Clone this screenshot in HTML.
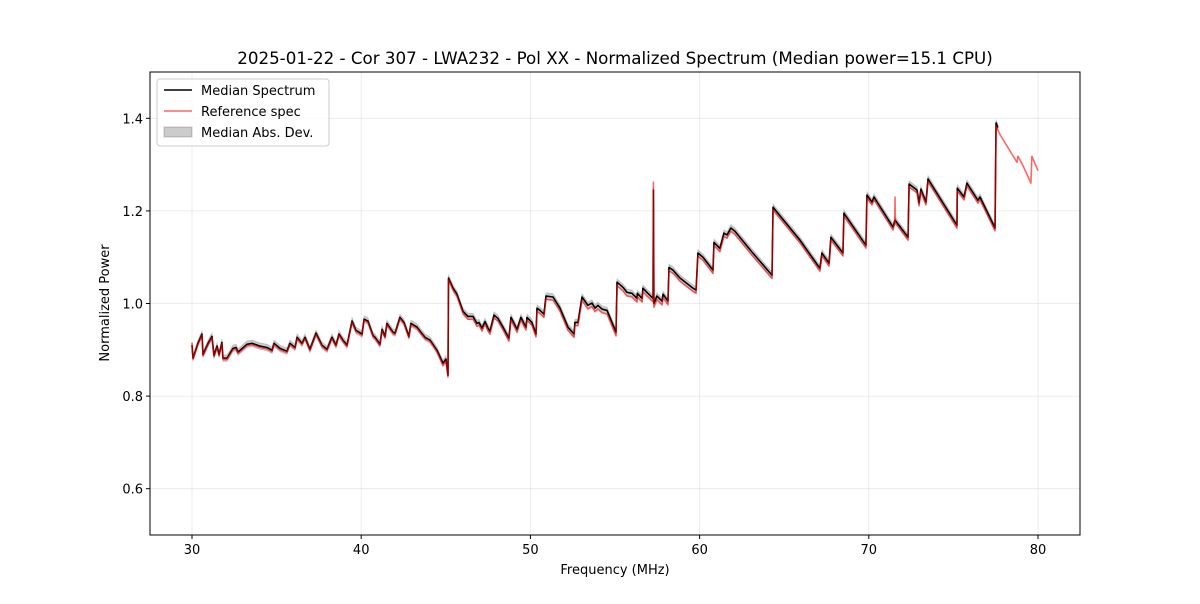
<!DOCTYPE html>
<html><head><meta charset="utf-8"><style>
body{margin:0;background:#fff;font-family:"DejaVu Sans",sans-serif}
svg text{font-family:"DejaVu Sans","Liberation Sans",sans-serif;fill:#000}
</style></head><body>
<svg id="chart" width="1200" height="600" xmlns="http://www.w3.org/2000/svg">
<rect width="1200" height="600" fill="#fff"/>
<text x="615" y="64" font-size="16.7" text-anchor="middle">2025-01-22 - Cor 307 - LWA232 - Pol XX - Normalized Spectrum (Median power=15.1 CPU)</text>
<g id="grid"></g><g id="band"></g><g id="lines"></g>
<rect x="150" y="72" width="930" height="463" fill="none" stroke="#000" stroke-width="1"/>
<g id="ticks"></g>
<text x="615" y="574" font-size="13" text-anchor="middle">Frequency (MHz)</text>
<text transform="translate(109,303) rotate(-90)" font-size="13" text-anchor="middle">Normalized Power</text>
<g>
<rect x="157" y="79" width="172" height="67" rx="3" fill="#fff" fill-opacity="0.8" stroke="#ccc"/>
<line x1="164" y1="90" x2="192" y2="90" stroke="#000" stroke-width="1.5"/>
<text x="201" y="95" font-size="13">Median Spectrum</text>
<line x1="164" y1="111" x2="192" y2="111" stroke="#ff0000" stroke-opacity="0.6" stroke-width="1.5"/>
<text x="201" y="116" font-size="13">Reference spec</text>
<rect x="164" y="127" width="28" height="10" fill="#000" fill-opacity="0.2" stroke="#000" stroke-opacity="0.2"/>
<text x="201" y="137" font-size="13">Median Abs. Dev.</text>
</g>
</svg>
<script>
const xTicks=[30,40,50,60,70,80];
const yTicks=[0.6,0.8,1.0,1.2,1.4];
const yTickLabels=["0.6","0.8","1.0","1.2","1.4"];
const medFreq=[30.00,30.06,30.35,30.59,30.65,30.95,31.18,31.30,31.48,31.60,31.77,31.83,32.07,32.42,32.60,32.72,33.25,33.55,34.02,34.43,34.73,34.85,35.20,35.61,35.79,36.09,36.21,36.50,36.68,36.97,37.33,37.68,37.98,38.27,38.51,38.69,38.92,39.16,39.46,39.69,40.05,40.17,40.40,40.70,40.82,41.11,41.23,41.41,41.52,41.88,42.00,42.29,42.53,42.82,42.94,43.30,43.53,43.77,44.07,44.48,44.83,45.01,45.13,45.16,45.43,45.66,46.02,46.31,46.61,46.84,46.96,47.14,47.32,47.49,47.61,47.85,48.08,48.38,48.73,48.85,49.09,49.21,49.44,49.62,49.74,49.80,50.09,50.33,50.39,50.57,50.80,50.92,51.34,51.75,52.22,52.58,52.63,52.81,53.05,53.40,53.64,53.82,53.99,54.23,54.53,55.06,55.12,55.47,55.71,56.00,56.30,56.32,56.60,56.65,56.89,57.25,57.27,57.30,57.48,57.78,57.84,58.13,58.19,58.43,58.84,59.61,59.79,59.90,60.20,60.79,60.85,61.20,61.44,61.62,61.85,62.09,63.10,64.28,64.34,64.63,65.93,67.11,67.23,67.65,67.76,68.47,68.53,69.83,69.89,70.19,70.31,71.43,71.55,72.32,72.38,72.85,72.97,73.08,73.38,73.50,75.21,75.23,75.63,75.80,76.45,76.57,77.46,77.52,77.63];
const medVals=[0.910,0.882,0.914,0.934,0.890,0.914,0.929,0.888,0.908,0.890,0.916,0.882,0.882,0.903,0.905,0.895,0.912,0.914,0.908,0.905,0.899,0.914,0.903,0.897,0.914,0.905,0.927,0.914,0.927,0.901,0.936,0.910,0.901,0.927,0.910,0.934,0.921,0.910,0.962,0.942,0.934,0.966,0.962,0.931,0.927,0.912,0.944,0.929,0.957,0.938,0.936,0.970,0.959,0.929,0.957,0.949,0.938,0.927,0.921,0.899,0.871,0.880,0.845,1.055,1.033,1.020,0.983,0.972,0.972,0.957,0.959,0.947,0.961,0.947,0.940,0.975,0.968,0.949,0.925,0.970,0.953,0.944,0.970,0.957,0.949,0.970,0.959,0.934,0.990,0.985,0.977,1.016,1.014,0.990,0.949,0.934,0.959,0.959,1.014,0.996,1.001,0.990,0.996,0.988,0.985,0.938,1.046,1.035,1.024,1.022,1.011,1.022,1.011,1.033,1.024,1.011,1.245,1.000,1.016,1.005,1.020,1.005,1.078,1.072,1.055,1.033,1.029,1.109,1.100,1.072,1.132,1.119,1.152,1.148,1.163,1.156,1.111,1.061,1.208,1.195,1.137,1.076,1.109,1.087,1.143,1.109,1.195,1.126,1.234,1.219,1.230,1.165,1.180,1.143,1.258,1.245,1.217,1.247,1.219,1.269,1.169,1.249,1.230,1.260,1.223,1.230,1.163,1.390,1.380];
const madVals=[0.007];
const refFreq=[30.00,30.06,30.35,30.59,30.65,30.95,31.18,31.30,31.48,31.60,31.77,31.83,32.07,32.42,32.60,32.72,33.25,33.55,34.02,34.43,34.73,34.85,35.20,35.61,35.79,36.09,36.21,36.50,36.68,36.97,37.33,37.68,37.98,38.27,38.51,38.69,38.92,39.16,39.46,39.69,40.05,40.17,40.40,40.70,40.82,41.11,41.23,41.41,41.52,41.88,42.00,42.29,42.53,42.82,42.94,43.30,43.53,43.77,44.07,44.48,44.83,45.01,45.13,45.16,45.43,45.66,46.02,46.31,46.61,46.84,46.96,47.14,47.32,47.49,47.61,47.85,48.08,48.38,48.73,48.85,49.09,49.21,49.44,49.62,49.74,49.80,50.09,50.33,50.39,50.57,50.80,50.92,51.34,51.75,52.22,52.58,52.63,52.81,53.05,53.40,53.64,53.82,53.99,54.23,54.53,55.06,55.12,55.47,55.71,56.00,56.30,56.32,56.60,56.65,56.89,57.25,57.27,57.30,57.48,57.78,57.84,58.13,58.19,58.43,58.84,59.61,59.79,59.90,60.20,60.79,60.85,61.20,61.44,61.62,61.85,62.09,63.10,64.28,64.34,64.63,65.93,67.11,67.23,67.65,67.76,68.47,68.53,69.83,69.89,70.19,70.31,71.43,71.53,71.55,71.57,72.32,72.38,72.85,72.97,73.08,73.38,73.50,75.21,75.23,75.63,75.80,76.45,76.57,77.46,77.52,77.75,78.76,78.82,79.11,79.58,79.64,80.00];
const refVals=[0.915,0.880,0.912,0.931,0.887,0.911,0.926,0.885,0.905,0.887,0.913,0.879,0.879,0.900,0.902,0.892,0.909,0.911,0.905,0.902,0.896,0.911,0.900,0.894,0.911,0.902,0.924,0.911,0.924,0.898,0.933,0.907,0.898,0.924,0.907,0.931,0.918,0.907,0.959,0.939,0.931,0.963,0.959,0.928,0.924,0.909,0.941,0.926,0.954,0.935,0.933,0.967,0.956,0.926,0.954,0.946,0.935,0.924,0.918,0.896,0.866,0.875,0.842,1.052,1.029,1.016,0.978,0.966,0.966,0.951,0.953,0.941,0.955,0.941,0.934,0.969,0.962,0.943,0.919,0.964,0.947,0.938,0.964,0.951,0.943,0.964,0.953,0.928,0.983,0.978,0.970,1.009,1.007,0.983,0.942,0.927,0.952,0.952,1.006,0.988,0.993,0.982,0.988,0.980,0.977,0.930,1.038,1.027,1.016,1.014,1.003,1.014,1.003,1.025,1.016,1.003,1.262,0.992,1.008,0.997,1.012,0.997,1.071,1.065,1.048,1.026,1.022,1.102,1.093,1.065,1.125,1.112,1.145,1.141,1.156,1.149,1.104,1.054,1.202,1.189,1.131,1.070,1.103,1.081,1.137,1.103,1.189,1.120,1.228,1.213,1.224,1.159,1.174,1.230,1.174,1.137,1.252,1.239,1.211,1.241,1.213,1.263,1.163,1.243,1.224,1.254,1.217,1.224,1.157,1.384,1.365,1.305,1.318,1.298,1.260,1.318,1.287];
const X0=150,X1=1080,Y0=72,Y1=535;
const xs=f=>192+(f-30)*(1038-192)/50;
const ys=v=>535-(v-0.5)*(Y1-Y0)/1.0;
const NS="http://www.w3.org/2000/svg";
function mk(tag,attrs,parent){const e=document.createElementNS(NS,tag);for(const k in attrs)e.setAttribute(k,attrs[k]);parent.appendChild(e);return e;}
const grid=document.getElementById('grid'),ticks=document.getElementById('ticks');
xTicks.forEach(t=>{
 const g=mk('line',{x1:xs(t),x2:xs(t),y1:Y0,y2:Y1,stroke:'#b0b0b0','stroke-opacity':0.3,'stroke-width':0.8},grid);
 
 
 mk('line',{x1:xs(t),x2:xs(t),y1:Y1,y2:Y1+4,stroke:'#000'},ticks);
 const tx=mk('text',{x:xs(t),y:Y1+19,'font-size':13,'text-anchor':'middle'},ticks);
 tx.textContent=String(t);
 
 
});
yTicks.forEach((t,i)=>{
 const g=mk('line',{x1:X0,x2:X1,y1:ys(t),y2:ys(t),stroke:'#b0b0b0','stroke-opacity':0.3,'stroke-width':0.8},grid);
 
 
 mk('line',{x1:X0-4,x2:X0,y1:ys(t),y2:ys(t),stroke:'#000'},ticks);
 const tx=mk('text',{x:X0-7,y:ys(t)+5,'font-size':13,'text-anchor':'end'},ticks);
 tx.textContent=yTickLabels[i];
 
 
});
const mad=madVals[0];
let up=medFreq.map((f,i)=>xs(f)+','+ys(medVals[i]+mad));
let dn=medFreq.map((f,i)=>xs(f)+','+ys(medVals[i]-mad)).reverse();
const band=mk('polygon',{points:up.concat(dn).join(' '),fill:'#000','fill-opacity':0.2,stroke:'#000','stroke-opacity':0.15},document.getElementById('band'));


const lines=document.getElementById('lines');
const med=mk('polyline',{points:medFreq.map((f,i)=>xs(f)+','+ys(medVals[i])).join(' '),fill:'none',stroke:'#000','stroke-width':1.6,'stroke-linejoin':'round'},lines);


const ref=mk('polyline',{points:refFreq.map((f,i)=>xs(f)+','+ys(refVals[i])).join(' '),fill:'none',stroke:'#ff0000','stroke-opacity':0.6,'stroke-width':1.6,'stroke-linejoin':'round'},lines);


</script>
</body></html>
